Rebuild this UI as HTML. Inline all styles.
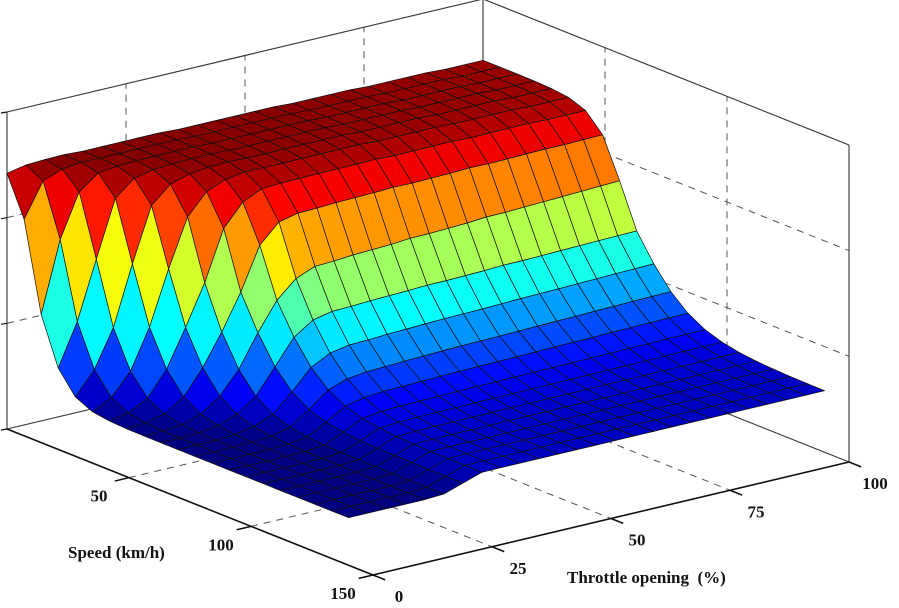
<!DOCTYPE html>
<html><head><meta charset="utf-8">
<style>
html,body{margin:0;padding:0;background:#fff;}
svg{display:block;}
text{font-family:"Liberation Serif",serif;font-weight:bold;font-size:17px;fill:#111;}
</style></head>
<body>
<svg id="chart" width="899" height="608" viewBox="0 0 899 608"></svg>
<script>
// ---- data ----
const speeds = [0,7,14,21,28,35,42,49,56,63,70,77,84,91,98,105,112,119,126,133,140];
const throttles = [0,4,8,12,16,20,24,28,32,36,40,44,48,52,56,60,64,68,72,76,80,84,88,92,96,100];
const thresholdSpeed = [11,17,23,30,37,43,49,54,57,58,58.1,58.3,58.4,58.5,58.7,58.8,58.9,59,59.2,59.3,59.4,59.5,59.6,59.8,59.9,60];
const upperWidth = [3,3.4,3.9,4.3,4.7,5.1,5.6,6,6,6,6,6,6,6,6,6,6,6,6,6,6,6,6,6,6,6];
const lowerWidth = [6,6.7,7.4,8.1,8.8,9.5,10.2,10.8,11,11.1,11.2,11.3,11.4,11.5,11.5,11.6,11.6,11.7,11.7,11.8,11.8,11.9,11.9,12,12,12];
const lowLevel = [0.45,0.45,0.45,0.45,0.45,0.46,0.52,0.58,0.58,0.58,0.58,0.58,0.58,0.58,0.58,0.58,0.58,0.58,0.58,0.58,0.58,0.58,0.58,0.58,0.58,0.58];
const highLevel = [2.47,2.47,2.47,2.47,2.46,2.46,2.46,2.46,2.46,2.45,2.45,2.45,2.45,2.45,2.45,2.44,2.44,2.44,2.44,2.43,2.43,2.43,2.43,2.42,2.42,2.42];
const speedTicks = [50,100,150];
const speedTickLabels = ["50","100","150"];
const throttleTicks = [0,25,50,75,100];
const throttleTickLabels = ["0","25","50","75","100"];
const zTicks = [0,1,2,3];

// ---- axes / projection ----
const S_MAX=150, T_MAX=100, Z_MAX=3;
function P(s,t,z){
  return [7 + s*366/S_MAX + t*476/T_MAX, 429 + s*146/S_MAX - t*113/T_MAX - z*317/Z_MAX];
}
const NS='http://www.w3.org/2000/svg';
const svg=document.getElementById('chart');
function mk(tag,attrs,parent){const e=document.createElementNS(NS,tag);for(const k in attrs)e.setAttribute(k,attrs[k]);(parent||svg).appendChild(e);return e;}
function line(a,b,attrs,g){return mk('line',Object.assign({x1:a[0],y1:a[1],x2:b[0],y2:b[1]},attrs),g);}

// ---- box & grid ----
const gGrid=mk('g',{});


const dash={stroke:'#555','stroke-width':1,'stroke-dasharray':'7,6',fill:'none'};
[50,100].forEach(s=>{const l=line(P(s,0,0),P(s,T_MAX,0),dash,gGrid);});
[25,50,75].forEach(t=>{const l=line(P(0,t,0),P(S_MAX,t,0),dash,gGrid);});
[25,50,75].forEach(t=>{const l=line(P(0,t,0),P(0,t,Z_MAX),dash,gGrid);});
[1,2].forEach(z=>{const l=line(P(0,0,z),P(0,T_MAX,z),dash,gGrid);});
[50,100].forEach(s=>{const l=line(P(s,T_MAX,0),P(s,T_MAX,Z_MAX),dash,gGrid);});
[1,2].forEach(z=>{const l=line(P(0,T_MAX,z),P(S_MAX,T_MAX,z),dash,gGrid);});
const gBox=mk('g',{});


[[P(0,0,0),P(0,0,Z_MAX)],[P(0,T_MAX,0),P(0,T_MAX,Z_MAX)],[P(S_MAX,T_MAX,0),P(S_MAX,T_MAX,Z_MAX)],
 [P(0,0,Z_MAX),P(0,T_MAX,Z_MAX)],[P(0,T_MAX,Z_MAX),P(S_MAX,T_MAX,Z_MAX)],
 [P(0,0,0),P(0,T_MAX,0)],[P(0,T_MAX,0),P(S_MAX,T_MAX,0)]].forEach(e=>{const l=line(e[0],e[1],{stroke:'#333','stroke-width':1.1},gBox);});

// ---- surface ----
const Z=speeds.map(s=>throttles.map((t,j)=>{
  const w = s<thresholdSpeed[j] ? upperWidth[j] : lowerWidth[j];
  return lowLevel[j]+(highLevel[j]-lowLevel[j])/(1+Math.exp((s-thresholdSpeed[j])/w));
}));
let zmin=Infinity,zmax=-Infinity;Z.forEach(r=>r.forEach(v=>{zmin=Math.min(zmin,v);zmax=Math.max(zmax,v);}));
function jet(v){
  const x=Math.max(0,Math.min(1,v));
  const c=k=>Math.max(0,Math.min(1,1.5-Math.abs(4*x-k)));
  return 'rgb('+Math.round(255*c(3))+','+Math.round(255*c(2))+','+Math.round(255*c(1))+')';
}
const faces=[];
for(let i=0;i<speeds.length-1;i++)for(let j=0;j<throttles.length-1;j++){
  const sc=(speeds[i]+speeds[i+1])/2, tc=(throttles[j]+throttles[j+1])/2;
  faces.push({i,j,key:sc*146/S_MAX - tc*113/T_MAX});
}
faces.sort((a,b)=>a.key-b.key);
const gSurf=mk('g',{});


faces.forEach(f=>{
  const {i,j}=f;
  const pts=[[i,j],[i+1,j],[i+1,j+1],[i,j+1]].map(([a,b])=>P(speeds[a],throttles[b],Z[a][b]));
  const zavg=(Z[i][j]+Z[i+1][j]+Z[i+1][j+1]+Z[i][j+1])/4;
  const p=mk('polygon',{points:pts.map(q=>q[0].toFixed(1)+','+q[1].toFixed(1)).join(' '),fill:jet((zavg-zmin)/(zmax-zmin)),stroke:'#111','stroke-width':0.7,'stroke-linejoin':'round'},gSurf);
  
  
});

// ---- front axes ----
const gAx=mk('g',{});


let l=line(P(0,0,0),P(S_MAX,0,0),{stroke:'#111','stroke-width':1.6},gAx);


l=line(P(S_MAX,0,0),P(S_MAX,T_MAX,0),{stroke:'#111','stroke-width':1.6},gAx);


speedTicks.forEach((s,k)=>{
  const a=P(s,0,0);const b=P(s,-3,0);
  const tk=line(a,b,{stroke:'#111','stroke-width':1.5},gAx);
  
  
  const tx=mk('text',{x:a[0]-30,y:a[1]+24,'text-anchor':'middle'},gAx);
  tx.textContent=speedTickLabels[k];
  
  
});
throttleTicks.forEach((t,k)=>{
  const a=P(S_MAX,t,0);const b=P(S_MAX+5,t,0);
  const tk=line(a,b,{stroke:'#111','stroke-width':1.5},gAx);
  
  
  const tx=mk('text',{x:a[0]+26,y:a[1]+27,'text-anchor':'middle'},gAx);
  tx.textContent=throttleTickLabels[k];
  
  
});
zTicks.forEach(z=>{
  const a=P(0,0,z);
  const tk=line(a,[a[0]-6,a[1]+1],{stroke:'#111','stroke-width':1.2},gAx);
  
  
});
let t1=mk('text',{x:68,y:558},gAx);
t1.textContent='Speed (km/h)';


let t2=mk('text',{x:567,y:583},gAx);
t2.textContent='Throttle opening  (%)';
t2.setAttribute('style','white-space:pre');


</script>
</body></html>
